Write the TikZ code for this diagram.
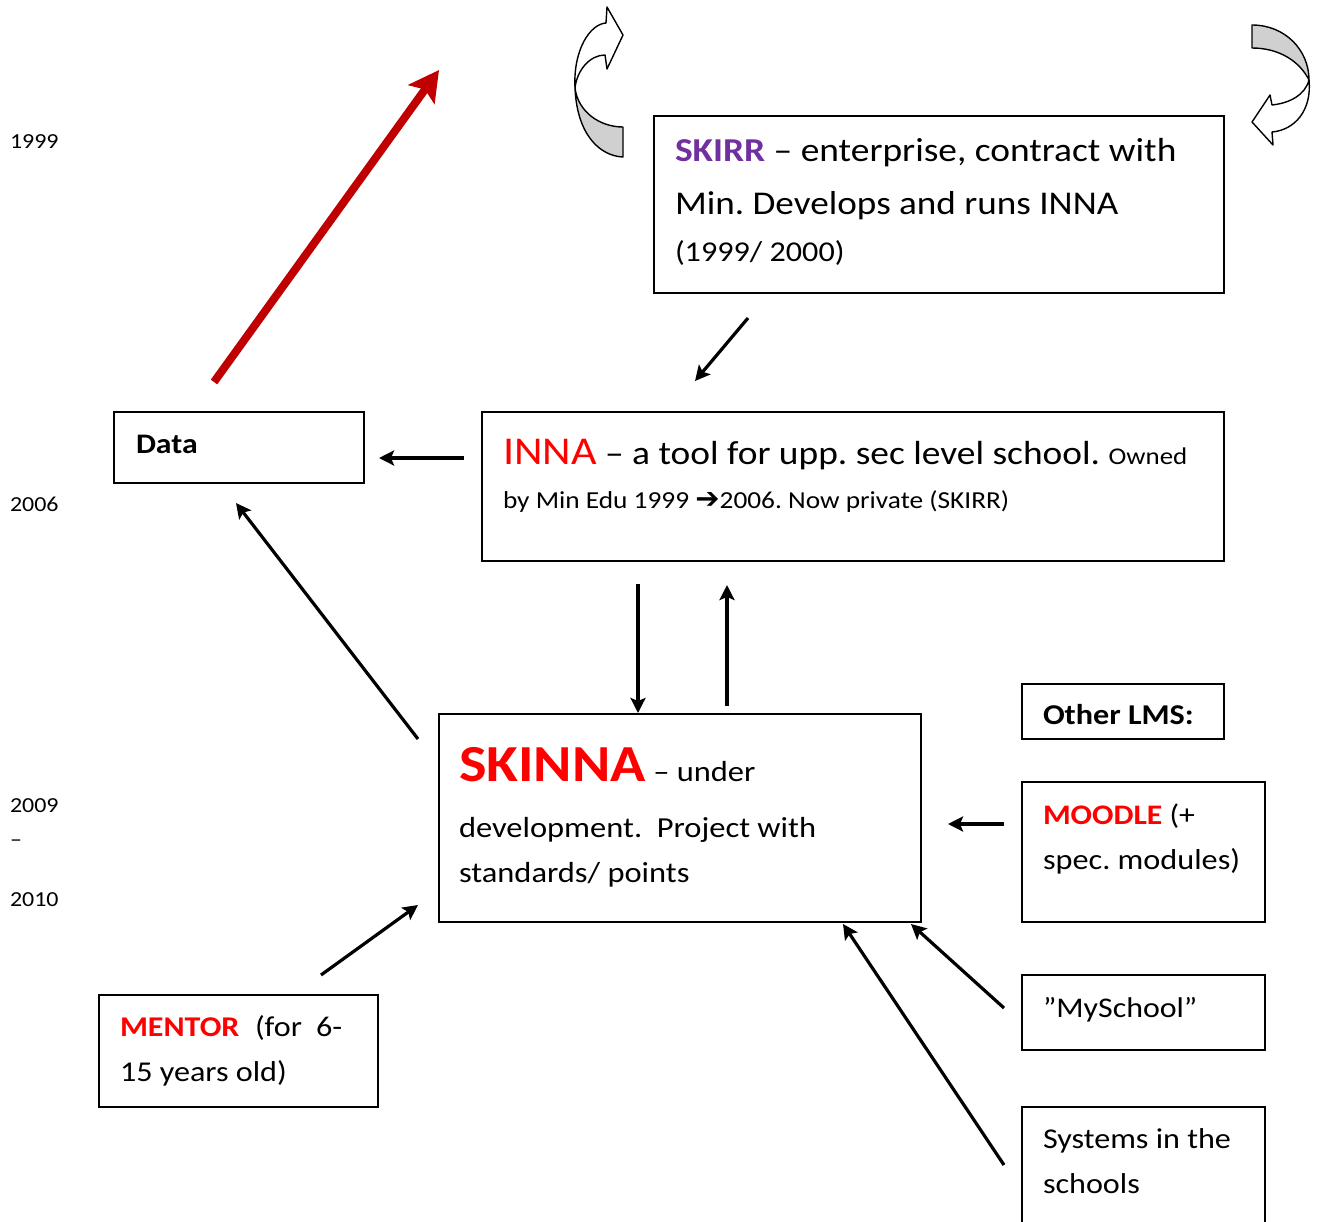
\documentclass[tikz,border=0pt]{standalone}
\usepackage{fontspec}
\setmainfont{Carlito}[FakeStretch=1.12]
\newfontfamily\symfont{DejaVu Sans}
\usetikzlibrary{arrows.meta}
\definecolor{wred}{HTML}{FF0000}
\definecolor{wpurple}{HTML}{7030A0}
\definecolor{darkred}{HTML}{C00000}
\definecolor{ribbon}{HTML}{D0D0D0}
\newcommand\fsz[1]{\fontsize{#1}{#1}\selectfont}
\frenchspacing
\begin{document}
\begin{tikzpicture}[x=1pt,y=-1pt,
  box/.style={draw, line width=1.6pt, anchor=north west, inner sep=0pt, outer sep=0pt},
  txt/.style={anchor=base west, inner sep=0pt, outer sep=0pt},
  conn/.style={line width=3.2pt, -{Stealth[length=15pt,width=15pt,inset=3pt]}},
  bigconn/.style={line width=8pt, color=darkred, -{Stealth[length=30pt,width=32pt,inset=6pt]}},
  curv/.style={draw, line width=1.4pt, line join=round},
]
\useasboundingbox (0,0) rectangle (1319,1221);

% boxes
\node[box, minimum width=570pt, minimum height=177pt] (skirr) at (654,116) {};
\node[box, minimum width=250pt, minimum height=71pt] (data) at (114,412) {};
\node[box, minimum width=742pt, minimum height=149pt] (inna) at (482,412) {};
\node[box, minimum width=482pt, minimum height=208pt] (skinna) at (439,714) {};
\node[box, minimum width=202pt, minimum height=55pt] (other) at (1022,684) {};
\node[box, minimum width=243pt, minimum height=140pt] (moodle) at (1022,782) {};
\node[box, minimum width=243pt, minimum height=75pt] (mysch) at (1022,975) {};
\node[box, minimum width=243pt, minimum height=130pt] (systems) at (1022,1107) {};
\node[box, minimum width=279pt, minimum height=112pt] (mentor) at (99,995) {};

% years
\node[txt] (y1999) at (10,148) {\fsz{21.4}1999};
\node[txt] (y2006) at (10,511) {\fsz{21.4}2006};
\node[txt] (y2009) at (10,812) {\fsz{21.4}2009};
\node[txt] (ydash) at (10,846) {\fsz{21.4}–};
\node[txt] (y2010) at (10,906) {\fsz{21.4}2010};

% SKIRR text
\node[txt] (s1) at (675,161) {\fsz{33.4}\textcolor{wpurple}{\bfseries SKIRR} – enterprise, contract with};
\node[txt] (s2) at (675,214) {\fsz{33.2}Min. Develops and runs INNA};
\node[txt] (s3) at (675,261) {\fsz{28.7}(1999/ 2000)};

% Data
\node[txt] (d1) at (136,453) {\fsz{28.3}\bfseries Data};

% INNA text
\node[txt] (i1) at (503,464) {\fsz{33.4}\textcolor{wred}{\fsz{39.4}INNA} – a tool for upp. sec level school. \fsz{24}Owned};
\node[txt] (i2) at (503,508) {\fsz{24.4}by Min Edu 1999 {\symfont\bfseries\fsz{29}➔}2006. Now private (SKIRR)};

% SKINNA text
\node[txt] (k1) at (459,781) {\fsz{29}\textcolor{wred}{\fsz{52}\bfseries SKINNA} – under};
\node[txt] (k2) at (459,837) {\fsz{29}development.\ \ Project with};
\node[txt] (k3) at (459,882) {\fsz{29}standards/ points};

% right column text
\node[txt] (o1) at (1043,724) {\fsz{28.7}\bfseries Other LMS:};
\node[txt] (m1) at (1043,824) {\fsz{28.3}\textcolor{wred}{\bfseries MOODLE} (+};
\node[txt] (m2) at (1043,869) {\fsz{28.8}spec. modules)};
\node[txt] (my1) at (1043,1017) {\fsz{28.5}”MySchool”};
\node[txt] (sy1) at (1043,1148) {\fsz{28.7}Systems in the};
\node[txt] (sy2) at (1043,1193) {\fsz{28.7}schools};

% MENTOR text
\node[txt] (me1) at (120,1036) {\fsz{28.6}\textcolor{wred}{\bfseries MENTOR}};
\node[txt] (me2) at (255,1036) {\fsz{28.7}(for};
\node[txt] (me3) at (316,1036) {\fsz{28.7}6-};
\node[txt] (me4) at (120,1081) {\fsz{28.7}15 years old)};

% connector end points
\coordinate (a1s) at (748,318); \coordinate (a1e) at (695,381);
\coordinate (a2s) at (464,458); \coordinate (a2e) at (379,458);
\coordinate (rs) at (214,382);  \coordinate (re) at (439,70);
\coordinate (a3s) at (418,739); \coordinate (a3e) at (236,503);
\coordinate (a4s) at (638,584); \coordinate (a4e) at (638,713);
\coordinate (a5s) at (727,706); \coordinate (a5e) at (727,585);
\coordinate (a6s) at (1004,824); \coordinate (a6e) at (948,824);
\coordinate (a7s) at (321,975); \coordinate (a7e) at (418,905);
\coordinate (a8s) at (1004,1008); \coordinate (a8e) at (911,924);
\coordinate (a9s) at (1004,1165); \coordinate (a9e) at (843,924);

\draw[conn] (a1s) -- (a1e);
\draw[conn] (a2s) -- (a2e);
\draw[bigconn] (rs) -- (re);
\draw[conn] (a3s) -- (a3e);
\draw[conn] (a4s) -- (a4e);
\draw[conn] (a5s) -- (a5e);
\draw[conn] (a6s) -- (a6e);
\draw[conn] (a7s) -- (a7e);
\draw[conn] (a8s) -- (a8e);
\draw[conn] (a9s) -- (a9e);

% curved arrow left
\filldraw[curv, fill=ribbon] (575,88) .. controls (577,135) and (600,156) .. (623,157)
  -- (623,127) .. controls (600,127) and (578,112) .. (575,88) -- cycle;
\filldraw[curv, fill=white] (575,88) .. controls (573,50) and (590,24) .. (606,23)
  -- (607,7) -- (623,35) -- (607,69) -- (605,55) .. controls (590,55) and (577,70) .. (575,88) -- cycle;

% curved arrow right
\filldraw[curv, fill=ribbon] (1252,25) .. controls (1285,25) and (1309,50) .. (1309,80)
  .. controls (1300,62) and (1280,48) .. (1252,48) -- cycle;
\filldraw[curv, fill=white] (1309,80) .. controls (1312,110) and (1295,130) .. (1272,132)
  -- (1273,145) -- (1252,122) -- (1270,95) -- (1272,105)
  .. controls (1290,103) and (1305,95) .. (1309,80) -- cycle;
\end{tikzpicture}
\end{document}
